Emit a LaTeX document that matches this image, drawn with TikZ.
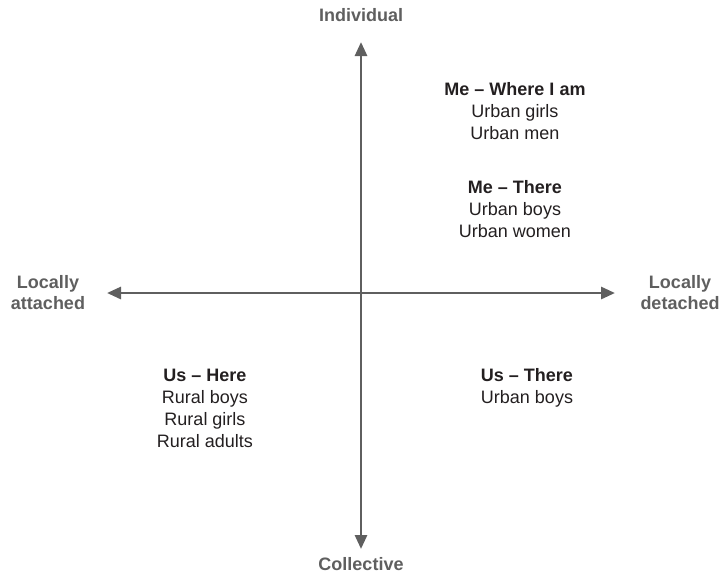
\documentclass[tikz,border=0pt]{standalone}
\usepackage{fontspec}
\setmainfont{Liberation Sans}
\usetikzlibrary{arrows.meta}
\definecolor{axisgray}{HTML}{5F5F5F}
\definecolor{bodytext}{HTML}{231F20}
\tikzset{
  axis/.style={draw=axisgray, line width=2.8pt, {Triangle[length=14pt,width=12pt]}-{Triangle[length=14pt,width=12pt]}},
  axislabel/.style={text=axisgray, font=\fontsize{18}{21}\selectfont\bfseries, align=center, inner sep=0pt},
  quad/.style={text=bodytext, font=\fontsize{18}{22}\selectfont, align=center, inner sep=0pt}
}
\begin{document}
\begin{tikzpicture}[x=1pt,y=-1pt]
\useasboundingbox (0,0) rectangle (719,574);
\coordinate (top) at (361,42);
\coordinate (bottom) at (361,549);
\coordinate (left) at (107,293);
\coordinate (right) at (615,293);
\draw[axis] (bottom) -- (top);
\draw[axis] (left) -- (right);
\node[axislabel] (ind) at (361,15) {Individual};
\node[axislabel] (col) at (361,564) {Collective};
\node[axislabel] (att) at (48,293) {Locally\\attached};
\node[axislabel] (det) at (680,293) {Locally\\detached};
\node[quad] (mewhere) at (515,111) {\textbf{Me – Where I am}\\Urban girls\\Urban men};
\node[quad] (methere) at (515,209) {\textbf{Me – There}\\Urban boys\\Urban women};
\node[quad] (ushere) at (205,408) {\textbf{Us – Here}\\Rural boys\\Rural girls\\Rural adults};
\node[quad] (usthere) at (527,388) {\textbf{Us – There}\\Urban boys};
\end{tikzpicture}
\end{document}
